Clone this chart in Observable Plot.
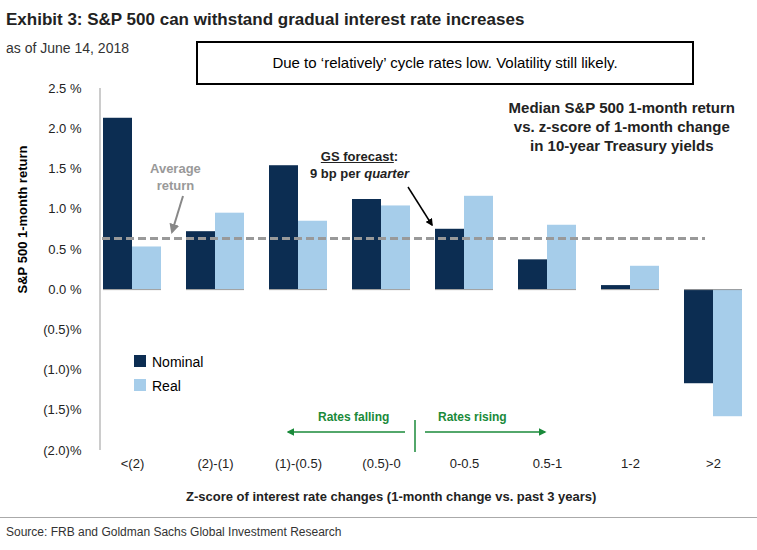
<!DOCTYPE html>
<html><head><meta charset="utf-8">
<script src="https://cdn.jsdelivr.net/npm/d3@7"></script>
<script src="https://cdn.jsdelivr.net/npm/@observablehq/plot@0.6"></script>
<style>
body{margin:0;font-family:"Liberation Sans",Arial,sans-serif;background:#fff}
#wrap{position:relative;width:757px;height:550px;overflow:hidden}
.a{position:absolute;white-space:nowrap}
</style></head><body>
<div id="wrap"></div>
<script>
const categories = ["<(2)","(2)-(1)","(1)-(0.5)","(0.5)-0","0-0.5","0.5-1","1-2",">2"];
const nominal = [2.13,0.72,1.54,1.12,0.75,0.37,0.05,-1.17];
const real = [0.53,0.95,0.85,1.04,1.16,0.80,0.29,-1.58];
const average = 0.63;
const yTicks = [2.5,2.0,1.5,1.0,0.5,0,-0.5,-1.0,-1.5,-2.0];
const fmt = v => v < 0 ? "(" + Math.abs(v).toFixed(1) + ")%" : v.toFixed(1) + " %";

const data = [];
categories.forEach((c,i)=>{
  data.push({cat:c, series:"Nominal", v:nominal[i]});
  data.push({cat:c, series:"Real", v:real[i]});
});
const chart = Plot.plot({
  width:757, height:550, marginTop:88, marginBottom:100, marginLeft:100, marginRight:12,
  style:{fontFamily:"Liberation Sans, Arial, sans-serif", fontSize:"13px", color:"#222"},
  fx:{domain:categories, padding:0.3, label:null, tickSize:0, tickPadding:8},
  x:{domain:["Nominal","Real"], axis:null, padding:0},
  y:{domain:[-2,2.5], ticks:yTicks, tickFormat:fmt, tickSize:0, tickPadding:22, label:null},
  color:{domain:["Nominal","Real"], range:["#0c2d52","#a6cdea"]},
  marks:[
    Plot.barY(data,{fx:"cat", x:"series", y:"v", fill:"series"}),
    Plot.ruleY([0],{stroke:"#999"})
  ]
});
const wrap = document.getElementById("wrap");
chart.style.position="absolute"; chart.style.left="0"; chart.style.top="0";
wrap.appendChild(chart);
const svg = d3.select(chart);
const y = chart.scale("y");
svg.append("line").attr("x1",100).attr("x2",100).attr("y1",88).attr("y2",450).attr("stroke","#999");
const ay = y.apply(average);
svg.append("line").attr("x1",102).attr("x2",705).attr("y1",ay).attr("y2",ay)
  .attr("stroke","#999").attr("stroke-width",3).attr("stroke-dasharray","8,4");
svg.append("line").attr("x1",415).attr("x2",415).attr("y1",420).attr("y2",452).attr("stroke","#1a8a3a").attr("stroke-width",1.5);
const defs = svg.append("defs");
[["g","#1a8a3a"],["k","#000"],["gr","#888"]].forEach(([id,c])=>{
  defs.append("marker").attr("id","m"+id).attr("viewBox","0 0 10 10").attr("refX",8).attr("refY",5)
   .attr("markerWidth",5).attr("markerHeight",5).attr("orient","auto")
   .append("path").attr("d","M0,0L10,5L0,10z").attr("fill",c);
});
svg.append("line").attr("x1",405).attr("x2",288).attr("y1",432).attr("y2",432).attr("stroke","#1a8a3a").attr("stroke-width",1.5).attr("marker-end","url(#mg)");
svg.append("line").attr("x1",425).attr("x2",545).attr("y1",432).attr("y2",432).attr("stroke","#1a8a3a").attr("stroke-width",1.5).attr("marker-end","url(#mg)");
svg.append("line").attr("x1",408).attr("x2",432).attr("y1",187).attr("y2",225).attr("stroke","#000").attr("stroke-width",1.5).attr("marker-end","url(#mk)");
svg.append("line").attr("x1",183).attr("x2",172).attr("y1",196).attr("y2",232).attr("stroke","#888").attr("stroke-width",2).attr("marker-end","url(#mgr)");

const add=(html,css)=>{const d=document.createElement("div");d.className="a";d.style.cssText=css;d.innerHTML=html;wrap.appendChild(d);};
add("Exhibit 3: S&amp;P 500 can withstand gradual interest rate increases","left:6px;top:10px;font-size:17px;font-weight:bold;color:#222");
add("as of June 14, 2018","left:6px;top:40px;font-size:14px;color:#333");
add("Due to ‘relatively’ cycle rates low. Volatility still likely.","left:196px;top:41px;width:494px;height:40px;border:2.5px solid #000;background:#fff;font-size:15px;line-height:40px;text-align:center");
add("Median S&amp;P 500 1-month return<br>vs. z-score of 1-month change<br>in 10-year Treasury yields","right:22px;top:98px;font-size:15px;font-weight:bold;text-align:center;line-height:19px;color:#222");
add("Average<br>return","left:150px;top:160px;font-size:13px;font-weight:bold;color:#999;text-align:center;line-height:17px");
add("<u>GS forecast</u>:<br>9 bp per <i>quarter</i>","left:310px;top:148px;font-size:13px;font-weight:bold;color:#222;text-align:center;line-height:17px");
add('<span style="display:inline-block;width:12px;height:12px;background:#0c2d52;margin-right:6px"></span>Nominal',"left:134px;top:354px;font-size:14px");
add('<span style="display:inline-block;width:12px;height:12px;background:#a6cdea;margin-right:6px"></span>Real',"left:134px;top:378px;font-size:14px");
add("Rates falling","left:318px;top:410px;font-size:12px;font-weight:bold;color:#1a8a3a");
add("Rates rising","left:438px;top:410px;font-size:12px;font-weight:bold;color:#1a8a3a");
add("S&amp;P 500 1-month return","left:-78px;top:212px;font-size:13px;font-weight:bold;transform:rotate(-90deg);transform-origin:center;width:200px;text-align:center");
add("Z-score of interest rate changes (1-month change vs. past 3 years)","left:186px;top:489px;font-size:13px;font-weight:bold;color:#222");
add("","left:0;top:517px;width:757px;border-top:1px solid #aaa");
add("Source: FRB and Goldman Sachs Global Investment Research","left:6px;top:525px;font-size:12px;color:#333");
</script></body></html>
